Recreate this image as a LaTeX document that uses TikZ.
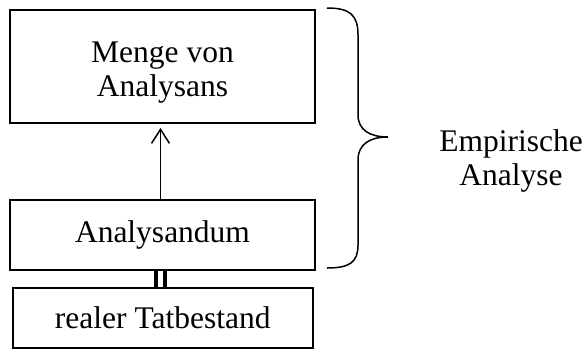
\documentclass[tikz,border=0pt]{standalone}
\usepackage{fontspec}
\setmainfont{Liberation Serif}
\usetikzlibrary{arrows.meta}
\begin{document}
\begin{tikzpicture}[x=1pt,y=-1pt,
  every node/.style={font=\fontsize{31.5}{34}\selectfont},
  box/.style={draw, line width=2pt, inner sep=0pt, align=center},
  lbl/.style={inner sep=0pt, align=center},
  conn/.style={line width=1.5pt},
  bar/.style={line width=3.6pt}]
\useasboundingbox (0,0) rectangle (587,349);
\begin{scope}
\clip (0,0) rectangle (587,349);
\node[box, minimum width=305pt, minimum height=113pt] (top) at (162.5,66.5) {};
\node[lbl] (toptext) at ([yshift=-6.2pt]top.center) {Menge von\\Analysans};
\node[box, minimum width=305pt, minimum height=70pt] (mid) at (162.5,235) {Analysandum};
\node[box, minimum width=300.5pt, minimum height=60pt] (bot) at (162.75,318) {realer Tatbestand};
\end{scope}
\draw[conn, -{Straight Barb[length=14pt,width=18pt,line width=1.5pt]}, shorten >=4pt]
  ([xshift=-2pt]mid.north) -- ([xshift=-2pt]top.south);
\draw[bar] ([xshift=-6.6pt]mid.south) -- ([xshift=-6.6pt]mid.south |- bot.north);
\draw[bar] ([xshift=2.5pt]mid.south) -- ([xshift=2.5pt]mid.south |- bot.north);
\draw[conn] (327,8) .. controls (350,8) and (358,15) .. (358,35) -- (358,115)
  .. controls (358,130) and (370,137) .. (388,137)
  .. controls (370,137) and (358,144) .. (358,160) -- (358,245)
  .. controls (358,262) and (350,268) .. (327,268);
\node[lbl] (emp) at (511,160.7) {Empirische\\Analyse};
\end{tikzpicture}
\end{document}
